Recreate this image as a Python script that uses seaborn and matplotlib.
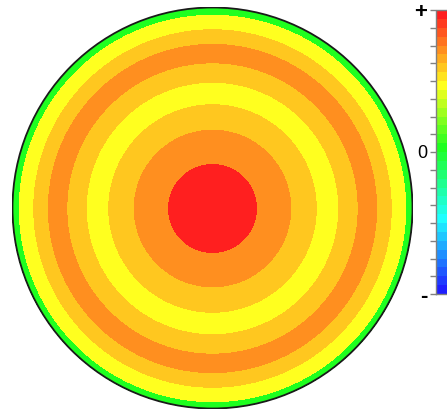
import colorsys

import matplotlib
matplotlib.use("Agg")
import matplotlib.pyplot as plt
from matplotlib.colors import ListedColormap
from matplotlib.patches import Circle
import numpy as np
import seaborn as sns

# Radial profile: outer radius of each ring (fraction of aperture radius), inner to outer
ring_outer = [0.222, 0.393, 0.520, 0.627, 0.724, 0.821, 0.894, 0.966, 1.0]
# Normalised value on each ring (-1 .. +1 colour scale)
ring_level = [0.97, 0.72, 0.60, 0.47, 0.60, 0.72, 0.60, 0.47, 0.03]

# Colour bar
n_bands = 32
cbar_ticks = list(np.linspace(-1, 1, 17))
cbar_labels = {1.0: "+", 0.0: "0", -1.0: "-"}

sns.set_style("white")
plt.rcParams["font.family"] = ["Liberation Sans", "DejaVu Sans"]

# Rainbow from blue (low) through green and yellow to red (high), in discrete bands
band_idx = np.arange(n_bands)
hues = np.interp(band_idx, [0, 16, 23, n_bands - 1], [240, 120, 60, 0]) / 360.0
band_colors = [colorsys.hls_to_rgb(h, 0.56, 1.0) for h in hues]
cmap = ListedColormap(band_colors)

# Sample the radial profile on a square grid over the aperture
n = 401
c = (np.arange(n) + 0.5 - n / 2) / (n / 2)
xx, yy = np.meshgrid(c, c)
rr = np.hypot(xx, yy)
idx = np.searchsorted(np.array(ring_outer), rr)
levels = np.array(ring_level + [np.nan])
field = levels[np.clip(idx, 0, len(ring_level))]
field[rr > 1.0] = np.nan

W, H = 447, 412
fig = plt.figure(figsize=(W / 100, H / 100), dpi=100)
ax = fig.add_axes([12 / W, 3 / H, 401 / W, 402 / H])
cax = fig.add_axes([435.5 / W, (H - 294) / H, 14 / W, 284 / H])

sns.heatmap(field, ax=ax, cmap=cmap, vmin=-1, vmax=1, cbar=True, cbar_ax=cax,
            xticklabels=False, yticklabels=False, rasterized=True)
ax.set_xlim(-0.5, n + 0.5)
ax.set_ylim(n + 0.5, -0.5)
ax.set_aspect("auto")
for s in ax.spines.values():
    s.set_visible(False)

# Aperture edge
ax.add_patch(Circle((n / 2, n / 2), n / 2, fill=False, lw=1.3, ec="#1a1a1a"))

cb = ax.collections[0].colorbar
cb.set_ticks(cbar_ticks)
cb.set_ticklabels([cbar_labels.get(round(t, 3), "") for t in cbar_ticks])
cb.outline.set_edgecolor("#808080")
cb.outline.set_linewidth(1.0)
cax.yaxis.set_ticks_position("left")
cax.yaxis.set_label_position("left")
cax.tick_params(axis="y", which="both", length=4, width=1, color="#808080",
                labelsize=13, pad=2, labelcolor="black")
for lab in cax.get_yticklabels():
    if lab.get_text() in ("+", "-"):
        lab.set_fontsize(16)
        lab.set_fontweight("bold")

fig.savefig("out.png", dpi=100)
